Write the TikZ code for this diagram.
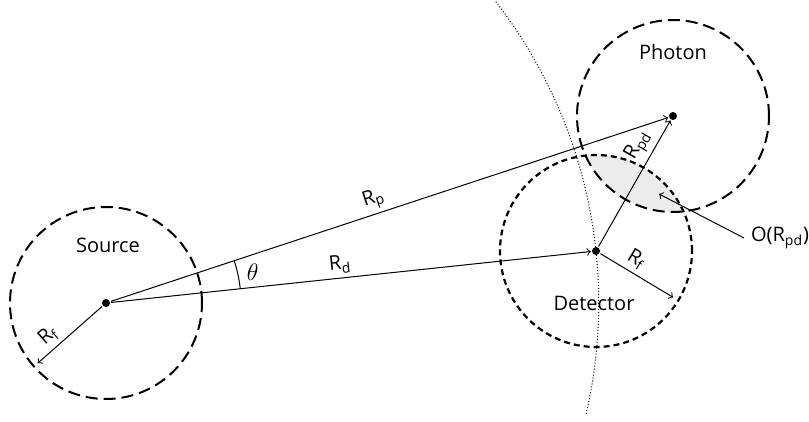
\documentclass[tikz,border=0pt]{standalone}
\usepackage{fontspec}
\setmainfont{Open Sans}
\usetikzlibrary{calc}

\begin{document}
\begin{tikzpicture}[x=0.5pt, y=0.5pt, font=\fontsize{10}{12}\selectfont, >=to,
    dot/.style={circle, fill, inner sep=0pt, minimum size=4pt, outer sep=0.6pt},
    bigdash/.style={line width=1pt, dash pattern=on 6pt off 3pt},
    smalldash/.style={line width=1.1pt, dash pattern=on 3pt off 2pt},
    thinline/.style={line width=0.5pt},
    lbl/.style={inner sep=2pt}]
        \useasboundingbox (0,0) rectangle (809,422);
        % centres
        \node[dot] (src) at (106,119) {};
        \node[dot] (det) at (596,171) {};
        \node[dot] (pho) at (673,306) {};
        % overlap of detector and photon
        \begin{scope}
            \clip (det.center) circle (96);
            \fill[gray!15] (pho.center) circle (96);
        \end{scope}
        % circles of radius R_f
        \draw[bigdash] (src.center) circle (96);
        \draw[bigdash] (pho.center) circle (96);
        \draw[smalldash] (det.center) circle (96);
        % arc of radius R_d round the source
        \draw[thinline, densely dotted] (src.center) ++(-13:492.75) arc[start angle=-13, end angle=37.9, radius=492.75];
        % distances
        \draw[->, thinline] (src) -- (pho) node[lbl, pos=0.48, sloped, above] (rp) {R\textsubscript{p}};
        \draw[->, thinline] (src) -- (det) node[lbl, pos=0.48, sloped, above] (rd) {R\textsubscript{d}};
        \draw[->, thinline] (det) -- (pho) node[lbl, pos=0.74, sloped, above] (rpd) {R\textsubscript{pd}};
        \coordinate (detrim) at ($(det.center)+(-31:90)$);
        \draw[->, thinline] (det) -- (detrim) node[lbl, pos=0.4, sloped, above] (rfd) {R\textsubscript{f}};
        \coordinate (srcrim) at ($(src.center)+(221.4:91)$);
        \draw[<-, thinline] (srcrim) -- (src) node[lbl, pos=0.3, sloped, above] (rfs) {R\textsubscript{f}};
        % angle between R_d and R_p
        \draw[thinline] ($(src.center)+(6.06:135)$) arc[start angle=6.06, end angle=18.25, radius=135];
        \node[font=\large] (theta) at ($(src.center)+(12:150)$) {$\theta$};
        % names
        \node (srclbl) at (108,177) {Source};
        \node (pholbl) at (673,370) {Photon};
        \node (detlbl) at (594,119) {Detector};
        \node[anchor=west] (ovl) at (744,184) {O(R\textsubscript{pd})};
        \coordinate (lens) at (659,228);
        \draw[->, thinline] (ovl.west) -- (lens);
    \end{tikzpicture}
\end{document}
